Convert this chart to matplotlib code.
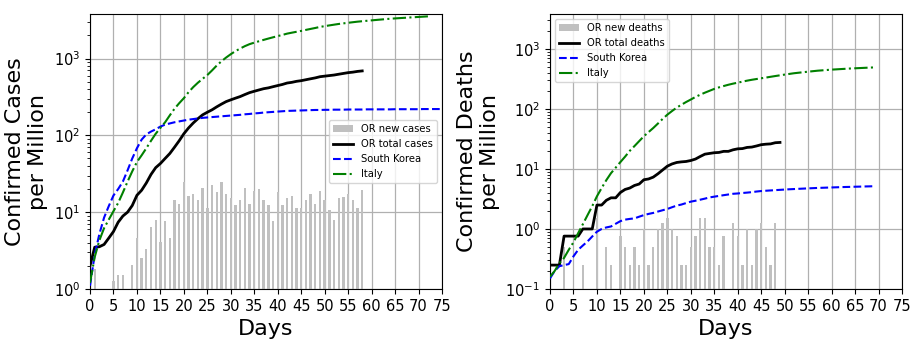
import numpy as np
import matplotlib
matplotlib.use("Agg")
import matplotlib.pyplot as plt

# ---------------- data (per million) ----------------
# Oregon new cases per day (bars)
or_case_days = [1, 5, 6, 7, 9, 10, 11, 12, 13, 14, 15, 16, 17, 18, 19, 20, 21, 22, 23, 24,
                25, 26, 27, 28, 29, 30, 31, 32, 33, 34, 35, 36, 37, 38, 39, 40, 41, 42, 43,
                44, 45, 46, 47, 48, 49, 50, 51, 52, 53, 54, 55, 56, 57, 58]
or_new_cases = [1.8, 1.27, 1.52, 1.52, 2.04, 4.57, 2.52, 3.29, 6.5, 7.8, 4.1, 7.6, 4.57, 14.2,
                12.7, 25, 16.4, 17.5, 14.6, 20.9, 11.5, 22.9, 18.5, 25, 17.5, 15.5, 12.3, 14.6,
                20.9, 12.7, 19.1, 20.2, 14.2, 12.3, 7.6, 18.5, 12.3, 15.1, 16.4, 11.5, 11.5,
                14.2, 17, 12.7, 19.1, 14.6, 10.8, 7.8, 15.5, 15.9, 17.5, 14.2, 11.5, 19.6]

# Oregon total cases, days 0..58
or_total_cases = [2.0, 3.5, 3.55, 3.8, 4.6, 5.6, 7.4, 8.9, 10, 12.2, 16.6, 19.3, 24, 31, 38,
                  43, 50, 58, 70, 85, 105, 125, 145, 165, 185, 200, 215, 235, 255, 275, 290,
                  305, 320, 340, 360, 375, 390, 405, 415, 430, 445, 460, 480, 490, 505, 515,
                  530, 545, 560, 580, 590, 600, 610, 625, 640, 655, 665, 680, 690]

# South Korea cases, days 0..75
sk_cases = [1.1, 2.8, 5.2, 8.5, 12, 16.5, 20, 25, 35, 50, 68, 88, 103, 112, 120, 130, 138,
            143, 148, 152, 156, 160, 163, 166, 169, 171, 173, 175, 177, 179, 181, 183, 185,
            188, 190, 193, 195, 198, 200, 202, 204, 206, 208, 209, 210, 211, 212, 213, 214,
            214, 215, 215, 216, 216, 216, 217, 217, 217, 217, 218, 218, 218, 218, 218, 218,
            219, 219, 219, 219, 219, 219, 220, 220, 220, 220, 220]

# Italy cases, days 0..72
it_cases = [1.2, 2.6, 4.3, 6.2, 8, 10.3, 13.2, 18, 25, 34, 45, 55, 68, 85, 105, 125, 148,
            182, 222, 262, 305, 365, 425, 485, 545, 610, 700, 810, 920, 1030, 1140, 1250,
            1350, 1450, 1540, 1610, 1680, 1750, 1820, 1890, 1960, 2030, 2110, 2170, 2230,
            2290, 2360, 2430, 2500, 2580, 2640, 2700, 2760, 2820, 2870, 2920, 2970, 3020,
            3060, 3100, 3140, 3180, 3220, 3260, 3300, 3330, 3360, 3390, 3420, 3450, 3480,
            3510, 3540]

# Oregon new deaths per day (bars)
or_death_days = [3, 7, 10, 12, 13, 15, 16, 17, 18, 19, 20, 21, 22, 23, 24, 25, 26, 27, 28,
                 29, 30, 31, 32, 33, 34, 35, 36, 37, 39, 40, 41, 42, 43, 44, 45, 46, 47, 48]
or_new_deaths = [0.5, 0.25, 1.5, 0.5, 0.25, 0.75, 0.5, 0.25, 0.5, 0.25, 1.0, 0.25, 0.5, 1.0,
                 1.25, 1.5, 1.0, 0.75, 0.25, 0.25, 0.5, 0.75, 1.5, 1.5, 0.5, 0.5, 0.25, 0.75,
                 1.25, 0.75, 0.25, 1.0, 0.25, 1.0, 1.25, 0.5, 0.25, 1.25]

# Oregon total deaths, days 0..49
or_total_deaths = [0.25, 0.25, 0.25, 0.76, 0.76, 0.76, 0.76, 1.0, 1.0, 1.0, 2.5, 2.5, 3.0,
                   3.3, 3.3, 4.05, 4.55, 4.8, 5.3, 5.6, 6.6, 6.8, 7.3, 8.3, 9.6, 11.1, 12.1,
                   12.8, 13.1, 13.3, 13.8, 14.6, 16.1, 17.6, 18.1, 18.6, 18.8, 19.6, 19.6,
                   20.8, 21.6, 21.8, 22.8, 23.1, 24.1, 25.3, 25.8, 26.1, 27.3, 27.6]

# South Korea deaths, days 0..69
sk_deaths = [0.15, 0.2, 0.24, 0.25, 0.26, 0.35, 0.45, 0.53, 0.62, 0.75, 0.9, 1.0, 1.06, 1.1,
             1.22, 1.35, 1.43, 1.47, 1.5, 1.6, 1.7, 1.78, 1.85, 1.95, 2.05, 2.15, 2.3, 2.45,
             2.55, 2.7, 2.85, 2.95, 3.07, 3.2, 3.35, 3.45, 3.55, 3.65, 3.75, 3.85, 3.9, 3.97,
             4.03, 4.1, 4.2, 4.28, 4.33, 4.38, 4.43, 4.48, 4.53, 4.58, 4.62, 4.66, 4.7, 4.74,
             4.78, 4.82, 4.85, 4.88, 4.91, 4.94, 4.97, 5.0, 5.02, 5.05, 5.07, 5.1, 5.12, 5.15]

# Italy deaths, days 0..69
it_deaths = [0.16, 0.2, 0.27, 0.33, 0.45, 0.6, 0.85, 1.2, 1.7, 2.4, 3.5, 4.8, 6.5, 8.5, 10.5,
             13, 16, 20, 24, 29, 35, 41, 48, 57, 68, 80, 92, 105, 117, 130, 143, 158, 172,
             186, 200, 215, 228, 240, 252, 263, 273, 284, 295, 305, 314, 323, 332, 342, 352,
             362, 372, 382, 392, 400, 408, 416, 424, 432, 438, 444, 450, 455, 460, 465, 470,
             474, 478, 482, 486, 490]

x_ticks = list(range(0, 80, 5))

# ---------------- plotting ----------------
fig = plt.figure(figsize=(9.21, 3.45), dpi=100)
ax1 = fig.add_axes([90 / 921, 1 - 289 / 345, 352 / 921, 275 / 345])
ax2 = fig.add_axes([550 / 921, 1 - 289 / 345, 352 / 921, 275 / 345])

BAR_W = 0.5
LBL = 16
TICK = 10.5
LEG = 7.2


def draw(ax, bar_days, bar_vals, total, sk, it, names, ylabel, ylo, loc):
    b = ax.bar(bar_days, bar_vals, width=BAR_W, color='silver', label=names[0], zorder=2)
    l1, = ax.plot(np.arange(len(total)), total, color='k', lw=2, label=names[1], zorder=3)
    l2, = ax.plot(np.arange(len(sk)), sk, color='b', ls='--', lw=1.5, label='South Korea', zorder=3)
    l3, = ax.plot(np.arange(len(it)), it, color='g', ls='-.', lw=1.5, label='Italy', zorder=3)
    ax.set_yscale('log')
    ax.set_ylim(ylo, 3800)
    ax.set_xlim(0, 75)
    ax.set_xticks(x_ticks)
    ax.grid(True, which='major', color='#b0b0b0', lw=0.9, zorder=0)
    ax.set_axisbelow(True)
    ax.set_xlabel('Days', fontsize=LBL)
    ax.set_ylabel(ylabel, fontsize=LBL)
    ax.tick_params(labelsize=TICK)
    ax.legend(handles=[b, l1, l2, l3], loc=loc, fontsize=LEG)


draw(ax1, or_case_days, or_new_cases, or_total_cases, sk_cases, it_cases,
     ['OR new cases', 'OR total cases'], 'Confirmed Cases\nper Million', 1, 'center right')

draw(ax2, or_death_days, or_new_deaths, or_total_deaths, sk_deaths, it_deaths,
     ['OR new deaths', 'OR total deaths'], 'Confirmed Deaths\nper Million', 0.1, 'upper left')

fig.savefig('out.png', dpi=100)
